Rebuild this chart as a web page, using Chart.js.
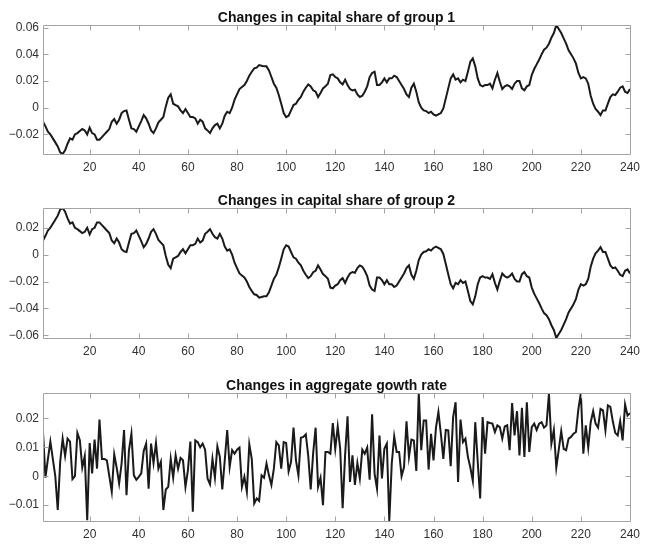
<!DOCTYPE html>
<html>
<head>
<meta charset="utf-8">
<script src="https://cdn.jsdelivr.net/npm/chart.js@4.4.1/dist/chart.umd.min.js"></script>
<style>
  html, body { margin: 0; padding: 0; background: #ffffff; }
  body { width: 646px; height: 544px; position: relative; overflow: hidden; }
  canvas { position: absolute; left: 0; }
</style>
</head>
<body>
<canvas id="panel1" width="646" height="180" style="top:0px"></canvas>
<canvas id="panel2" width="646" height="182" style="top:182px"></canvas>
<canvas id="panel3" width="646" height="178" style="top:366px"></canvas>
<script>
// Quarters 1..240
const periods = Array.from({ length: 240 }, (_, k) => k + 1);
const periodTicks = [20, 40, 60, 80, 100, 120, 140, 160, 180, 200, 220, 240];

// Change in capital share of group 1
const shareGroup1 = [
  -0.0105, -0.014, -0.018, -0.020, -0.023, -0.026, -0.029, -0.0335, -0.0347, -0.032,
  -0.027, -0.023, -0.024, -0.020, -0.019, -0.0175, -0.016, -0.017, -0.020, -0.015,
  -0.019, -0.020, -0.024, -0.024, -0.022, -0.020, -0.018, -0.016, -0.0105, -0.0085,
  -0.012, -0.009, -0.004, -0.0025, -0.002, -0.009, -0.0155, -0.016, -0.018, -0.014,
  -0.010, -0.0055, -0.008, -0.012, -0.017, -0.019, -0.0155, -0.011, -0.009, -0.007,
  0.001, 0.0075, 0.010, 0.003, 0.002, 0.001, -0.002, -0.004, -0.001, -0.004,
  -0.007, -0.007, -0.008, -0.012, -0.009, -0.0105, -0.0155, -0.017, -0.019, -0.0155,
  -0.013, -0.012, -0.0155, -0.012, -0.006, -0.003, -0.004, 0.000, 0.006, 0.010,
  0.014, 0.0155, 0.017, 0.020, 0.024, 0.027, 0.0295, 0.030, 0.032, 0.0315,
  0.031, 0.031, 0.028, 0.023, 0.018, 0.015, 0.0095, 0.003, -0.004, -0.007,
  -0.006, -0.002, 0.002, 0.003, 0.006, 0.008, 0.012, 0.015, 0.0175, 0.016,
  0.013, 0.012, 0.008, 0.011, 0.0145, 0.016, 0.018, 0.0245, 0.025, 0.023,
  0.022, 0.019, 0.0175, 0.021, 0.017, 0.014, 0.013, 0.0135, 0.010, 0.008,
  0.009, 0.012, 0.016, 0.023, 0.026, 0.027, 0.017, 0.017, 0.019, 0.022,
  0.019, 0.022, 0.022, 0.024, 0.023, 0.020, 0.017, 0.014, 0.010, 0.008,
  0.015, 0.018, 0.012, 0.004, 0.000, -0.002, -0.0025, -0.004, -0.003, -0.005,
  -0.006, -0.005, -0.004, -0.0005, 0.007, 0.0145, 0.022, 0.025, 0.021, 0.022,
  0.019, 0.021, 0.020, 0.027, 0.0345, 0.037, 0.031, 0.022, 0.017, 0.016,
  0.017, 0.017, 0.018, 0.0145, 0.021, 0.026, 0.0195, 0.014, 0.016, 0.017,
  0.016, 0.014, 0.018, 0.020, 0.020, 0.0145, 0.013, 0.016, 0.017, 0.0245,
  0.029, 0.0325, 0.036, 0.040, 0.0435, 0.045, 0.048, 0.0525, 0.056, 0.062,
  0.059, 0.056, 0.052, 0.048, 0.043, 0.040, 0.037, 0.033, 0.026, 0.022,
  0.023, 0.022, 0.018, 0.009, 0.003, -0.001, -0.003, -0.0055, -0.002, -0.002,
  0.003, 0.008, 0.010, 0.0095, 0.012, 0.015, 0.016, 0.012, 0.011, 0.014
];

// Change in capital share of group 2
const shareGroup2 = [
  0.0105, 0.014, 0.018, 0.020, 0.023, 0.026, 0.029, 0.0335, 0.0347, 0.032,
  0.027, 0.023, 0.024, 0.020, 0.019, 0.0175, 0.016, 0.017, 0.020, 0.015,
  0.019, 0.020, 0.024, 0.024, 0.022, 0.020, 0.018, 0.016, 0.0105, 0.0085,
  0.012, 0.009, 0.004, 0.0025, 0.002, 0.009, 0.0155, 0.016, 0.018, 0.014,
  0.010, 0.0055, 0.008, 0.012, 0.017, 0.019, 0.0155, 0.011, 0.009, 0.007,
  -0.001, -0.0075, -0.010, -0.003, -0.002, -0.001, 0.002, 0.004, 0.001, 0.004,
  0.007, 0.007, 0.008, 0.012, 0.009, 0.0105, 0.0155, 0.017, 0.019, 0.0155,
  0.013, 0.012, 0.0155, 0.012, 0.006, 0.003, 0.004, 0.000, -0.006, -0.010,
  -0.014, -0.0155, -0.017, -0.020, -0.024, -0.027, -0.0295, -0.030, -0.032, -0.0315,
  -0.031, -0.031, -0.028, -0.023, -0.018, -0.015, -0.0095, -0.003, 0.004, 0.007,
  0.006, 0.002, -0.002, -0.003, -0.006, -0.008, -0.012, -0.015, -0.0175, -0.016,
  -0.013, -0.012, -0.008, -0.011, -0.0145, -0.016, -0.018, -0.0245, -0.025, -0.023,
  -0.022, -0.019, -0.0175, -0.021, -0.017, -0.014, -0.013, -0.0135, -0.010, -0.008,
  -0.009, -0.012, -0.016, -0.023, -0.026, -0.027, -0.017, -0.017, -0.019, -0.022,
  -0.019, -0.022, -0.022, -0.024, -0.023, -0.020, -0.017, -0.014, -0.010, -0.008,
  -0.015, -0.018, -0.012, -0.004, 0.000, 0.002, 0.0025, 0.004, 0.003, 0.005,
  0.006, 0.005, 0.004, 0.0005, -0.007, -0.0145, -0.022, -0.025, -0.021, -0.022,
  -0.019, -0.021, -0.020, -0.027, -0.0345, -0.037, -0.031, -0.022, -0.017, -0.016,
  -0.017, -0.017, -0.018, -0.0145, -0.021, -0.026, -0.0195, -0.014, -0.016, -0.017,
  -0.016, -0.014, -0.018, -0.020, -0.020, -0.0145, -0.013, -0.016, -0.017, -0.0245,
  -0.029, -0.0325, -0.036, -0.040, -0.0435, -0.045, -0.048, -0.0525, -0.056, -0.062,
  -0.059, -0.056, -0.052, -0.048, -0.043, -0.040, -0.037, -0.033, -0.026, -0.022,
  -0.023, -0.022, -0.018, -0.009, -0.003, 0.001, 0.003, 0.0055, 0.002, 0.002,
  -0.003, -0.008, -0.010, -0.0095, -0.012, -0.015, -0.016, -0.012, -0.011, -0.014
];

// Change in aggregate growth rate
const growthChange = [
  0.0153, -0.0005, 0.006, 0.012, 0.006, 0.000, -0.0117, 0.005, 0.013, 0.007,
  0.013, 0.012, -0.001, 0.000, 0.015, 0.0125, 0.003, 0.007, -0.0152, 0.0115,
  0.001, 0.0127, 0.0026, 0.0196, 0.006, 0.006, 0.0055, 0.000, -0.0054, 0.0076,
  0.003, -0.0025, 0.0044, 0.016, -0.0066, 0.009, 0.0147, 0.0003, -0.0012, -0.0002,
  0.001, 0.0087, 0.0113, -0.0043, 0.0113, 0.0046, 0.0115, 0.0026, 0.005, -0.0117,
  -0.0046, -0.0037, 0.006, -0.0005, 0.0072, 0.0026, 0.0063, 0.0055, -0.0037, 0.002,
  0.012, -0.0123, 0.0124, 0.0118, 0.010, 0.0113, 0.0092, -0.0008, -0.0028, 0.006,
  -0.0005, 0.0103, 0.0067, -0.0046, 0.0055, 0.016, 0.0032, 0.009, 0.0078, 0.0092,
  0.0099, -0.0037, -0.0002, -0.0054, 0.011, 0.006, -0.0094, -0.0077, -0.0085, 0.0003,
  -0.0005, 0.0044, 0.0003, -0.003, 0.0026, 0.0118, 0.0107, 0.0026, 0.0118, 0.0115,
  0.0017, 0.005, 0.0168, 0.0055, 0.0003, 0.0133, 0.0136, 0.0145, 0.007, -0.0046,
  0.008, 0.0168, -0.0037, -0.0005, -0.010, 0.0084, 0.0084, 0.0078, 0.0184, 0.0095,
  0.0172, 0.0095, -0.0111, 0.0072, 0.0207, -0.002, 0.0072, -0.003, 0.0046, -0.0008,
  0.0092, 0.0078, 0.0099, -0.0012, 0.0214, 0.0009, -0.0043, 0.0141, -0.0008, 0.0095,
  0.0113, -0.0155, 0.0044, 0.0138, 0.0084, 0.0084, 0.000, 0.0032, 0.019, 0.0067,
  0.0127, 0.0124, 0.0018, 0.0288, 0.009, 0.0193, 0.0193, 0.0023, 0.0147, 0.0055,
  0.0168, 0.0222, 0.0147, 0.006, 0.016, 0.0159, 0.0035, 0.0205, 0.0256, -0.002,
  0.0196, 0.0118, 0.013, 0.0067, 0.003, -0.0016, 0.0187, 0.005, -0.0077, 0.0205,
  0.0078, 0.0187, 0.0184, 0.0182, 0.0153, 0.0176, 0.017, 0.013, 0.0172, 0.0176,
  0.009, 0.0253, 0.0141, 0.0225, 0.0072, 0.0237, 0.0067, 0.0256, 0.0084, 0.017,
  0.0182, 0.016, 0.0182, 0.0187, 0.0168, 0.0176, 0.0285, 0.0113, 0.016, 0.003,
  0.0092, 0.0156, 0.0095, 0.009, 0.013, 0.0136, 0.0147, 0.0153, 0.0233, 0.0288,
  0.0078, 0.0176, 0.0099, 0.0187, 0.0225, 0.0182, 0.0168, 0.0233, 0.0228, 0.0159,
  0.0245, 0.024, 0.019, 0.015, 0.0141, 0.019, 0.0124, 0.0248, 0.021, 0.0218
];

// Y tick values and their printed labels per panel (true minus sign)
const share1Ticks = [-0.02, 0, 0.02, 0.04, 0.06];
const share1Labels = ['\u22120.02', '0', '0.02', '0.04', '0.06'];
const share2Ticks = [-0.06, -0.04, -0.02, 0, 0.02];
const share2Labels = ['\u22120.06', '\u22120.04', '\u22120.02', '0', '0.02'];
const growthTicks = [-0.01, 0, 0.01, 0.02];
const growthLabels = ['\u22120.01', '0', '0.01', '0.02'];

const titles = [
  'Changes in capital share of group 1',
  'Changes in capital share of group 2',
  'Changes in aggregate gowth rate'
];

Chart.defaults.font.family = '"Liberation Sans", Arial, Helvetica, sans-serif';
Chart.defaults.font.size = 12;
Chart.defaults.color = '#303030';

// Box around the axes with inward tick marks on all four sides, plus the panel title
const boxFrame = {
  id: 'boxFrame',
  afterDatasetsDraw(chart, args, opts) {
    const { ctx, chartArea: a, scales } = chart;
    const L = 5;
    const left = Math.round(a.left) + 0.5, right = Math.round(a.right) + 0.5;
    const top = Math.round(a.top) + 0.5, bottom = Math.round(a.bottom) + 0.5;
    ctx.save();
    ctx.strokeStyle = '#a3a3a3';
    ctx.lineWidth = 1;
    ctx.beginPath();
    ctx.rect(left, top, right - left, bottom - top);
    scales.x.ticks.forEach(t => {
      const px = Math.round(scales.x.getPixelForValue(t.value)) + 0.5;
      ctx.moveTo(px, bottom); ctx.lineTo(px, bottom - L);
      ctx.moveTo(px, top); ctx.lineTo(px, top + L);
    });
    scales.y.ticks.forEach(t => {
      const py = Math.round(scales.y.getPixelForValue(t.value)) + 0.5;
      ctx.moveTo(left, py); ctx.lineTo(left + L, py);
      ctx.moveTo(right, py); ctx.lineTo(right - L, py);
    });
    ctx.stroke();
    ctx.fillStyle = '#111111';
    ctx.font = 'bold 14px "Liberation Sans", Arial, Helvetica, sans-serif';
    ctx.textAlign = 'center';
    ctx.textBaseline = 'alphabetic';
    ctx.fillText(opts.text, (a.left + a.right) / 2, a.top - 3.5);
    ctx.restore();
  }
};

function makePanel(id, title, values, yMin, yMax, yTicks, yLabels, padTop, padBottom) {
  const points = periods.map((p, k) => ({ x: p, y: values[k] }));
  return new Chart(document.getElementById(id), {
    type: 'line',
    data: {
      datasets: [{
        data: points,
        borderColor: '#1a1a1a',
        borderWidth: 2,
        pointRadius: 0,
        tension: 0,
        fill: false
      }]
    },
    options: {
      responsive: false,
      animation: false,
      devicePixelRatio: 1,
      layout: { padding: { left: 0, right: 12, top: padTop, bottom: padBottom } },
      plugins: {
        legend: { display: false },
        tooltip: { enabled: false },
        boxFrame: { text: title }
      },
      scales: {
        x: {
          type: 'linear',
          min: 1,
          max: 240,
          grid: { display: false, drawTicks: false },
          border: { display: false },
          afterBuildTicks: s => { s.ticks = periodTicks.map(v => ({ value: v })); },
          afterFit: s => { s.height = 20; },
          ticks: { padding: 6, maxRotation: 0, autoSkip: false, callback: v => String(v) }
        },
        y: {
          min: yMin,
          max: yMax,
          grid: { display: false, drawTicks: false },
          border: { display: false },
          afterBuildTicks: s => { s.ticks = yTicks.map(v => ({ value: v })); },
          afterFit: s => { s.width = 43; },
          ticks: { padding: 4, autoSkip: false, callback: (v, i) => yLabels[i] }
        }
      }
    },
    plugins: [boxFrame]
  });
}

makePanel('panel1', titles[0], shareGroup1, -0.0347, 0.062, share1Ticks, share1Labels, 25, 6);
makePanel('panel2', titles[1], shareGroup2, -0.062, 0.0347, share2Ticks, share2Labels, 26, 6);
makePanel('panel3', titles[2], growthChange, -0.0155, 0.0288, growthTicks, growthLabels, 27, 3);
</script>
</body>
</html>
